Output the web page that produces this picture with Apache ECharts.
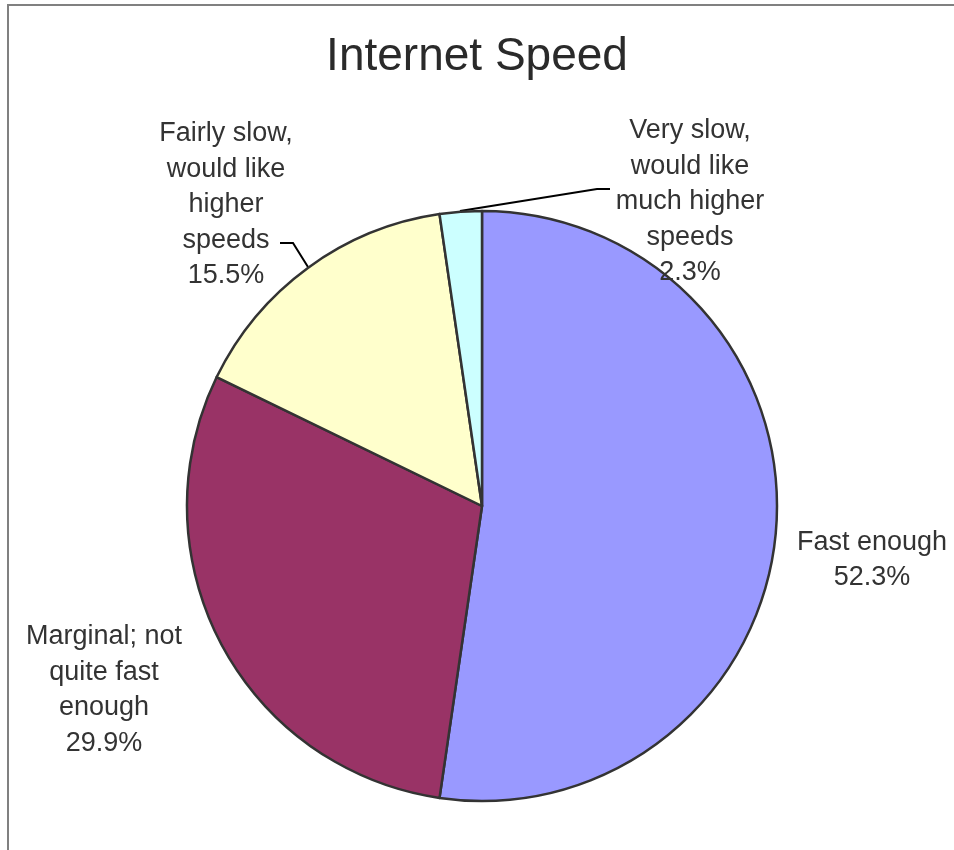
<!DOCTYPE html>
<html>
<head>
<meta charset="utf-8">
<script src="https://cdn.jsdelivr.net/npm/echarts@6/dist/echarts.min.js"></script>
<style>
  html, body { margin: 0; padding: 0; background: #fff; }
  #main { width: 954px; height: 850px; }
</style>
</head>
<body>
<div id="main"></div>
<script>
// slice names (line breaks as in the original labels) and shares in %
var categories = [
  'Fast enough',
  'Marginal; not\nquite fast\nenough',
  'Fairly slow,\nwould like\nhigher\nspeeds',
  'Very slow,\nwould like\nmuch higher\nspeeds'
];
var shares = [52.3, 29.9, 15.5, 2.3];
var colors = ['#9999FF', '#993366', '#FFFFCC', '#CCFFFF'];

var chart = echarts.init(document.getElementById('main'));

/* ----------------------------------------------------------------
 label placement (excel style, outside the pie)
 -----------------------------------------------------------------*/
var labelSpots = [
  { x: 872, y: 560 },
  { x: 104, y: 690 },
  { x: 226, y: 205, line: [[308, 267], [293, 243], [280, 243]] },
  { x: 690, y: 202, line: [[460, 211], [597, 189], [610, 189]] }
];

var data = categories.map(function (name, i) {
  return {
    name: name,
    value: shares[i],
    itemStyle: { color: colors[i] },
    labelLine: { show: !!labelSpots[i].line }
  };
});

var option = {
  backgroundColor: '#fff',
  animation: false,
  title: {
    text: 'Internet Speed',
    left: 'center',
    top: 29,
    textStyle: {
      fontFamily: 'Liberation Sans, Arial, sans-serif',
      fontSize: 46,
      fontWeight: 'normal',
      color: '#2a2a2a'
    }
  },
  graphic: [{
    type: 'rect',
    shape: { x: 8, y: 5, width: 1000, height: 900 },
    style: { fill: 'none', stroke: '#808080', lineWidth: 2 },
    silent: true
  }],
  series: [{
    type: 'pie',
    center: [482, 506],
    radius: 295,
    startAngle: 90,
    clockwise: true,
    percentPrecision: 1,
    itemStyle: { borderColor: '#333', borderWidth: 2.5 },
    label: {
      show: true,
      position: 'outside',
      formatter: '{b}\n{d}%',
      fontFamily: 'Liberation Sans, Arial, sans-serif',
      fontSize: 27,
      lineHeight: 35.5,
      color: '#333',
      align: 'center',
      overflow: 'none'
    },
    labelLine: {
      show: true,
      lineStyle: { color: '#000', width: 2 }
    },
    labelLayout: function (params) {
      var s = labelSpots[params.dataIndex];
      var out = { x: s.x, y: s.y, align: 'center', verticalAlign: 'middle' };
      if (s.line) {
        out.labelLinePoints = s.line;
      }
      return out;
    },
    emphasis: { disabled: true },
    data: data
  }]
};

chart.setOption(option);
</script>
</body>
</html>
